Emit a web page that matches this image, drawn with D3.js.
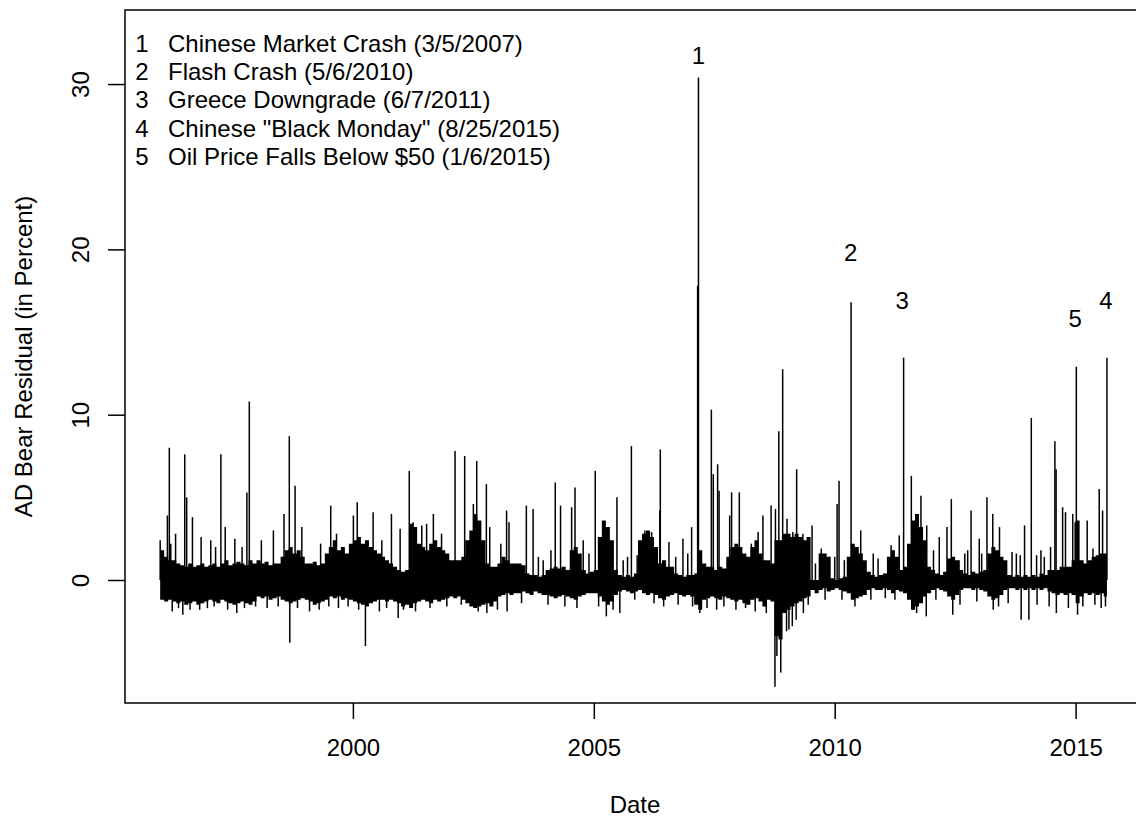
<!DOCTYPE html>
<html>
<head>
<meta charset="utf-8">
<script src="https://cdn.jsdelivr.net/npm/d3@7"></script>
<style>
    body { margin: 0; background: #fff; }
    text { font-family: "Liberation Sans", Arial, sans-serif; fill: #000; }
</style>
</head>
<body>
<svg id="chart" width="1136" height="820"></svg>
<script>
// Monthly core range of the daily residual band, Jan 1996 .. Aug 2015 (percent)
const bandStart = 1996;
const dataEnd = 2015.65;
const coreHigh = [
    1.8, 1.4, 1.2, 1.2, 1.0, 0.9, 0.8, 1.0, 0.8, 0.9, 1.0, 0.8,   // 1996
    0.9, 1.0, 0.8, 1.0, 1.2, 0.9, 1.0, 1.1, 1.0, 0.9, 1.2, 1.0,   // 1997
    1.2, 1.0, 1.1, 0.9, 1.0, 1.0, 1.4, 1.8, 2.0, 1.6, 1.8, 1.4,   // 1998
    1.0, 1.0, 1.1, 0.9, 1.0, 1.6, 2.0, 2.4, 1.8, 2.0, 1.6, 2.2,   // 1999
    2.4, 2.6, 2.2, 2.4, 2.0, 1.8, 1.6, 1.4, 1.2, 1.0, 0.8, 0.6,   // 2000
    0.5, 0.6, 3.4, 3.2, 2.2, 2.0, 1.8, 2.2, 2.4, 2.0, 1.8, 1.6,   // 2001
    1.2, 1.2, 1.2, 1.4, 2.4, 3.0, 4.0, 3.6, 2.4, 1.0, 0.8, 0.8,   // 2002
    1.0, 1.4, 1.2, 1.0, 1.0, 1.0, 0.9, 0.4, 0.3, 0.3, 0.2, 0.3,   // 2003
    0.6, 0.7, 0.8, 0.7, 0.8, 0.6, 1.8, 2.0, 1.6, 0.6, 0.4, 0.5,   // 2004
    0.6, 2.6, 3.6, 3.2, 2.4, 0.6, 0.3, 0.2, 0.3, 0.2, 0.4, 2.4,   // 2005
    2.8, 3.0, 2.6, 2.0, 1.0, 1.2, 0.8, 0.8, 0.4, 0.3, 0.2, 0.3,   // 2006
    0.3, 0.4, 1.8, 1.0, 0.8, 0.8, 0.6, 0.8, 0.7, 1.4, 2.0, 2.2,   // 2007
    2.0, 1.6, 1.4, 2.0, 2.4, 1.6, 1.2, 1.2, 1.0, 2.4, 2.4, 2.8,   // 2008
    2.8, 2.6, 2.8, 2.6, 2.4, 2.6, 0.0, 0.0, 1.6, 1.6, 1.4, 0.1,   // 2009
    0.0, 0.1, 0.2, 1.4, 2.2, 2.0, 1.6, 1.2, 0.5, 0.3, 0.2, 0.3,   // 2010
    0.4, 1.4, 1.8, 1.4, 0.6, 0.8, 2.2, 3.6, 4.0, 3.2, 2.4, 0.8,   // 2011
    0.6, 0.4, 0.3, 0.5, 1.3, 1.4, 1.2, 0.6, 0.4, 0.3, 0.5, 0.4,   // 2012
    0.5, 0.6, 1.6, 2.0, 1.8, 1.4, 1.2, 0.3, 0.2, 0.3, 0.2, 0.3,   // 2013
    0.2, 0.3, 0.2, 0.4, 0.3, 0.6, 0.6, 0.6, 0.8, 0.8, 0.8, 1.2,   // 2014
    3.6, 1.2, 1.0, 1.2, 1.4, 1.5, 1.6, 1.6                        // 2015
];
const coreLow = [
    -1.2, -1.3, -1.2, -1.3, -1.4, -1.3, -1.5, -1.4, -1.3, -1.5, -1.4, -1.3,   // 1996
    -1.2, -1.3, -1.4, -1.2, -1.3, -1.4, -1.5, -1.4, -1.3, -1.4, -1.5, -1.3,   // 1997
    -1.0, -1.1, -1.0, -1.2, -1.1, -1.0, -1.2, -1.3, -1.4, -1.3, -1.2, -1.1,   // 1998
    -1.2, -1.3, -1.5, -1.4, -1.3, -1.2, -1.0, -1.1, -1.0, -1.2, -1.1, -1.2,   // 1999
    -1.3, -1.4, -1.5, -1.6, -1.4, -1.3, -1.2, -1.2, -1.3, -1.2, -1.3, -1.4,   // 2000
    -1.6, -1.5, -1.7, -1.4, -1.3, -1.2, -1.3, -1.4, -1.2, -1.3, -1.2, -1.1,   // 2001
    -1.0, -1.1, -1.0, -1.2, -1.4, -1.6, -1.7, -1.6, -1.5, -1.4, -1.6, -1.3,   // 2002
    -1.0, -0.9, -0.8, -0.9, -0.8, -0.8, -0.7, -0.8, -0.9, -0.7, -0.8, -0.9,   // 2003
    -0.9, -1.0, -1.1, -1.0, -0.9, -1.0, -1.1, -1.2, -1.0, -0.9, -0.8, -0.8,   // 2004
    -0.8, -1.0, -1.3, -1.5, -1.3, -0.9, -0.7, -0.6, -0.7, -0.8, -0.7, -0.6,   // 2005
    -0.8, -0.9, -0.8, -0.9, -1.1, -1.2, -1.0, -0.9, -0.8, -0.9, -1.0, -0.9,   // 2006
    -1.0, -1.5, -1.8, -1.2, -1.1, -1.0, -1.1, -1.2, -1.0, -1.1, -1.2, -1.3,   // 2007
    -1.2, -1.4, -1.5, -1.2, -1.1, -1.3, -1.6, -1.2, -1.3, -3.4, -3.6, -2.0,   // 2008
    -1.8, -1.6, -1.4, -1.3, -1.1, -1.0, -0.6, -0.8, -0.6, -0.5, -0.7, -0.6,   // 2009
    -0.5, -0.6, -0.7, -0.8, -1.2, -1.1, -1.0, -0.9, -0.6, -0.5, -0.6, -0.6,   // 2010
    -0.5, -0.6, -0.8, -0.6, -0.7, -0.8, -1.2, -1.8, -1.6, -1.4, -1.0, -0.8,   // 2011
    -0.6, -0.5, -0.6, -0.7, -1.0, -1.2, -0.9, -0.6, -0.5, -0.5, -0.6, -0.5,   // 2012
    -0.6, -0.7, -1.0, -1.2, -1.1, -0.9, -0.6, -0.5, -0.5, -0.6, -0.5, -0.6,   // 2013
    -0.5, -0.6, -0.5, -0.6, -0.5, -0.7, -0.8, -0.9, -0.8, -0.9, -0.8, -0.9,   // 2014
    -1.4, -1.0, -0.8, -0.9, -0.8, -0.9, -0.8, -1.0                            // 2015
];

// Single-day excursions beyond the core band: [year, percent]
const spikes = [
    [1996.00, 2.4], [1996.15, 3.9], [1996.19, 8.0], [1996.22, 2.2], [1996.25, -1.9],
    [1996.32, 2.8], [1996.47, -2.1], [1996.51, 7.6], [1996.55, 5.0], [1996.67, 3.8],
    [1996.82, -1.8], [1996.85, 2.6], [1997.05, 2.4], [1997.15, 2.0], [1997.26, 7.6],
    [1997.35, 3.2], [1997.55, 2.5], [1997.59, -2.0], [1997.70, 2.0], [1997.80, 5.3],
    [1997.85, 10.8], [1998.10, 2.4], [1998.22, -1.7], [1998.35, 3.0], [1998.57, 4.0],
    [1998.68, 8.7], [1998.69, -3.8], [1998.80, 5.7], [1998.94, 3.2], [1999.30, -1.8],
    [1999.33, 2.2], [1999.54, 4.5], [1999.66, 2.8], [1999.90, -1.6], [2000.01, 3.9],
    [2000.09, 4.7], [2000.26, -4.0], [2000.42, 4.1], [2000.55, -1.9], [2000.60, 2.4],
    [2000.80, 4.0], [2000.94, -2.3], [2000.98, 3.1], [2001.17, 6.6], [2001.25, 3.5],
    [2001.43, 3.3], [2001.53, 3.4], [2001.67, 4.0], [2001.84, 2.8], [2002.12, 7.8],
    [2002.32, 7.5], [2002.50, 4.6], [2002.57, 7.2], [2002.77, 5.8], [2002.78, -2.0],
    [2002.84, 3.2], [2003.07, 2.2], [2003.19, 4.2], [2003.20, -1.9], [2003.24, 3.5],
    [2003.60, 4.5], [2003.74, 4.3], [2004.11, 1.8], [2004.20, 5.9], [2004.31, 4.5],
    [2004.54, 4.4], [2004.61, 5.6], [2004.78, 2.4], [2005.03, 6.6], [2005.19, 2.4],
    [2005.26, -2.2], [2005.48, 5.0], [2005.54, -2.0], [2005.61, 1.2], [2005.78, 8.1],
    [2006.06, 3.0], [2006.20, 2.9], [2006.37, 4.2], [2006.38, 7.9], [2006.56, 2.3],
    [2006.85, 2.5], [2007.03, 3.2], [2007.155, 17.8], [2007.172, 30.4], [2007.20, -2.0],
    [2007.44, 10.3], [2007.48, 6.4], [2007.55, -1.8], [2007.57, 7.0], [2007.60, 5.4],
    [2007.82, 3.9], [2007.86, 5.3], [2008.02, 5.3], [2008.27, 2.2], [2008.41, 2.9],
    [2008.51, 3.9], [2008.58, -2.0], [2008.68, 4.5], [2008.76, -6.45], [2008.77, 4.3],
    [2008.80, -4.6], [2008.84, 9.0], [2008.88, -5.6], [2008.92, 12.75], [2009.00, -3.1],
    [2009.01, 3.7], [2009.05, -3.0], [2009.12, -2.8], [2009.13, 2.9], [2009.20, -2.4],
    [2009.21, 6.7], [2009.34, 2.8], [2009.35, -2.0], [2009.53, 3.3], [2009.72, 1.9],
    [2010.05, 4.6], [2010.09, 6.0], [2010.34, 16.8], [2010.54, 3.0], [2010.90, 1.3],
    [2011.17, 2.1], [2011.34, 2.7], [2011.43, 13.45], [2011.59, 6.3], [2011.62, -1.8],
    [2011.79, 5.1], [2011.90, -2.2], [2011.91, 3.3], [2012.17, 2.6], [2012.33, 3.2],
    [2012.42, 4.9], [2012.45, -2.1], [2012.58, 1.2], [2012.76, 1.8], [2012.83, 4.2],
    [2013.00, 2.5], [2013.16, 5.0], [2013.28, 4.0], [2013.29, -1.8], [2013.42, 3.2],
    [2013.68, 1.7], [2013.77, 1.6], [2013.87, -2.4], [2013.94, 3.3], [2014.03, -2.4],
    [2014.08, 9.8], [2014.19, 1.5], [2014.28, 1.8], [2014.57, 8.4], [2014.595, 6.7],
    [2014.73, 4.4], [2014.79, 4.1], [2014.94, 4.0], [2014.99, 3.5], [2015.015, 12.9],
    [2015.04, -2.1], [2015.24, 3.6], [2015.36, 1.9], [2015.49, 5.5], [2015.53, -1.7],
    [2015.56, 4.2], [2015.65, 13.45]
];

// Smaller day-to-day whiskers along the edges of the band: [year, percent]
const whiskers = [
    [1996.38, -1.7], [1996.62, -1.8], [1996.98, -1.7], [1997.12, -1.6], [1997.40, -1.8],
    [1997.75, -1.7], [1997.98, -1.6], [1998.45, -1.6], [1998.85, -1.7], [1999.10, -1.9],
    [1999.50, -1.6], [1999.70, -1.7], [2000.12, -1.8], [2000.70, -1.7], [2001.05, -1.8],
    [2001.30, -1.9], [2001.60, -1.7], [2001.95, -1.6], [2002.25, -1.5], [2002.60, -1.9],
    [2003.00, -1.8], [2003.50, -1.4], [2003.85, 1.4], [2003.95, 1.2], [2004.05, -1.5],
    [2004.40, -1.6], [2004.65, -1.7], [2004.90, 1.6], [2005.10, -1.6], [2005.40, -1.8],
    [2005.70, 1.4], [2005.85, -1.2], [2005.90, 1.5], [2006.25, -1.4], [2006.45, -1.6],
    [2006.70, 1.4], [2006.75, -1.5], [2006.95, 1.6], [2007.05, -1.6], [2007.35, -1.7],
    [2007.70, -1.6], [2007.95, -1.8], [2008.15, -1.7], [2008.35, -1.9], [2009.45, -1.5],
    [2009.60, 1.0], [2009.80, -1.2], [2010.00, 1.4], [2010.15, -1.2], [2010.20, 1.2],
    [2010.42, -1.6], [2010.75, -1.2], [2010.80, 1.6], [2011.05, -1.1], [2011.25, -1.2],
    [2011.70, -2.0], [2012.05, 1.8], [2012.10, -1.2], [2012.60, -1.5], [2012.70, 1.6],
    [2012.95, -1.3], [2013.05, 1.6], [2013.40, -1.6], [2013.60, -1.4], [2013.85, 1.5],
    [2014.20, -1.5], [2014.35, 1.4], [2014.45, -1.6], [2014.48, 2.0], [2014.60, -2.0],
    [2014.85, -1.7], [2015.15, -1.6], [2015.40, -1.5], [2015.62, -1.6]
];

// Event markers
const eventIds = ['1', '2', '3', '4', '5'];
const eventNames = [
    'Chinese Market Crash (3/5/2007)',
    'Flash Crash (5/6/2010)',
    'Greece Downgrade (6/7/2011)',
    'Chinese "Black Monday" (8/25/2015)',
    'Oil Price Falls Below $50 (1/6/2015)'
];
const eventYears = [2007.17, 2010.33, 2011.40, 2015.63, 2014.99];
const eventLabelValues = [31.75, 19.8, 16.9, 16.9, 15.8];

const xTicks = [2000, 2005, 2010, 2015];
const yTicks = [0, 10, 20, 30];

// Layout
const plot = { left: 125, top: 10, right: 1145, bottom: 703 };
const fontSize = 24;

const svg = d3.select('#chart');

const x = d3.scaleLinear()
    .domain([1995.27, 2016.44])
    .range([plot.left, plot.right]);

const y = d3.scaleLinear()
    .domain([-7.44, 34.48])
    .range([plot.bottom, plot.top]);

svg.append('clipPath')
    .attr('id', 'clip')
    .append('rect')
    .attr('x', plot.left)
    .attr('y', plot.top)
    .attr('width', plot.right - plot.left)
    .attr('height', plot.bottom - plot.top);

const dataLayer = svg.append('g').attr('clip-path', 'url(#clip)');

// Core band
const band = coreHigh.map((h, i) => ({ t: bandStart + i / 12, hi: h, lo: coreLow[i] }));
band.push({ t: dataEnd, hi: coreHigh[coreHigh.length - 1], lo: coreLow[coreLow.length - 1] });

const area = d3.area()
    .x(d => x(d.t))
    .y0(d => y(d.lo))
    .y1(d => y(d.hi))
    .curve(d3.curveStepAfter);

dataLayer.append('path')
    .datum(band)
    .attr('d', area)
    .attr('fill', '#000');

// Whiskers and spikes
dataLayer.selectAll('.whisker')
    .data(whiskers)
    .enter()
    .append('line')
    .attr('class', 'whisker')
    .attr('x1', d => x(d[0]))
    .attr('x2', d => x(d[0]))
    .attr('y1', y(0))
    .attr('y2', d => y(d[1]))
    .attr('stroke', '#000')
    .attr('stroke-width', 1.5);

dataLayer.selectAll('.spike')
    .data(spikes)
    .enter()
    .append('line')
    .attr('class', 'spike')
    .attr('x1', d => x(d[0]))
    .attr('x2', d => x(d[0]))
    .attr('y1', y(0))
    .attr('y2', d => y(d[1]))
    .attr('stroke', '#000')
    .attr('stroke-width', 1.5);

// Event numbers above spikes
svg.selectAll('.event-label')
    .data(eventIds)
    .enter()
    .append('text')
    .attr('class', 'event-label')
    .attr('x', (d, i) => x(eventYears[i]))
    .attr('y', (d, i) => y(eventLabelValues[i]))
    .attr('dy', '0.36em')
    .attr('text-anchor', 'middle')
    .style('font-size', fontSize + 'px')
    .text(d => d);

// Axes
const xAxis = d3.axisBottom(x)
    .tickValues(xTicks)
    .tickFormat(d3.format('d'))
    .tickSize(16)
    .tickSizeOuter(0)
    .tickPadding(20);

const gx = svg.append('g')
    .attr('transform', `translate(0, ${plot.bottom})`)
    .call(xAxis);
gx.select('.domain').remove();
gx.selectAll('line').attr('stroke', '#000').attr('stroke-width', 1.5);
gx.selectAll('text')
    .style('font-size', fontSize + 'px')
    .style('font-family', '"Liberation Sans", Arial, sans-serif');

const yAxis = d3.axisLeft(y)
    .tickValues(yTicks)
    .tickSize(17)
    .tickSizeOuter(0);

const gy = svg.append('g')
    .attr('transform', `translate(${plot.left}, 0)`)
    .call(yAxis);
gy.select('.domain').remove();
gy.selectAll('line').attr('stroke', '#000').attr('stroke-width', 1.5);
gy.selectAll('text')
    .attr('x', 0)
    .attr('y', -36)
    .attr('dy', 0)
    .attr('text-anchor', 'middle')
    .attr('transform', 'rotate(-90)')
    .style('font-size', fontSize + 'px')
    .style('font-family', '"Liberation Sans", Arial, sans-serif');

// Plot box
svg.append('rect')
    .attr('x', plot.left)
    .attr('y', plot.top)
    .attr('width', plot.right - plot.left)
    .attr('height', plot.bottom - plot.top)
    .attr('fill', 'none')
    .attr('stroke', '#000')
    .attr('stroke-width', 1.5);

// Axis titles
svg.append('text')
    .attr('x', (plot.left + plot.right) / 2)
    .attr('y', 813)
    .attr('text-anchor', 'middle')
    .style('font-size', fontSize + 'px')
    .text('Date');

svg.append('text')
    .attr('transform', `translate(32, ${(plot.top + plot.bottom) / 2}) rotate(-90)`)
    .attr('text-anchor', 'middle')
    .style('font-size', fontSize + 'px')
    .text('AD Bear Residual (in Percent)');

// Legend (no box)
const legend = svg.append('g')
    .attr('transform', 'translate(142, 43)');

legend.selectAll('.legend-id')
    .data(eventIds)
    .enter()
    .append('text')
    .attr('x', 0)
    .attr('y', (d, i) => i * 28.3)
    .attr('dy', '0.36em')
    .attr('text-anchor', 'middle')
    .style('font-size', fontSize + 'px')
    .text(d => d);

legend.selectAll('.legend-name')
    .data(eventNames)
    .enter()
    .append('text')
    .attr('x', 26)
    .attr('y', (d, i) => i * 28.3)
    .attr('dy', '0.36em')
    .style('font-size', fontSize + 'px')
    .text(d => d);
</script>
</body>
</html>
